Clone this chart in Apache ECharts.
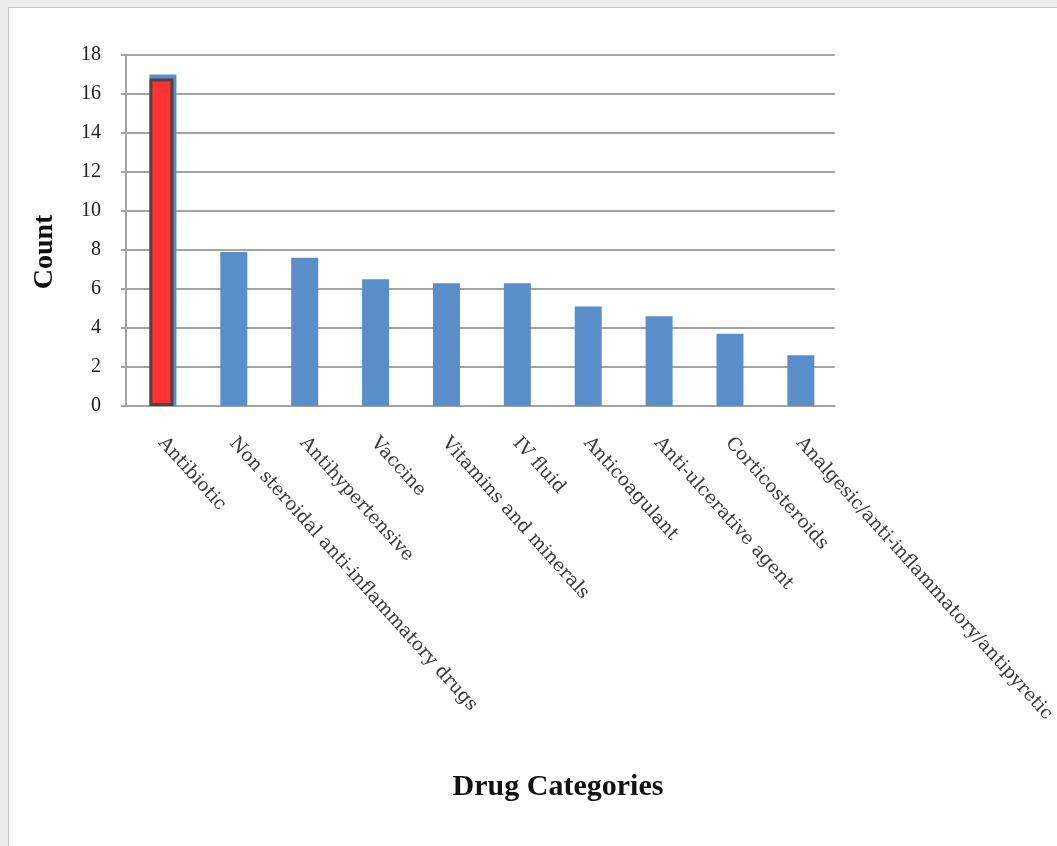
<!DOCTYPE html>
<html>
<head>
<meta charset="utf-8">
<script src="https://cdn.jsdelivr.net/npm/echarts@6/dist/echarts.min.js"></script>
<style>
  html, body { margin: 0; padding: 0; background: #ececec; }
  #main { position: absolute; left: 8px; top: 7px; width: 1049px; height: 839px;
          background: #ffffff; border-left: 1px solid #c4c4c4; border-top: 1px solid #c4c4c4; }
</style>
</head>
<body>
<div id="main"></div>
<script>
// chart data
var categories = ['Antibiotic', 'Non steroidal anti-inflammatory drugs', 'Antihypertensive', 'Vaccine',
  'Vitamins and minerals', 'IV fluid', 'Anticoagulant', 'Anti-ulcerative agent', 'Corticosteroids',
  'Analgesic/anti-inflammatory/antipyretic'];
var counts = [17, 7.9, 7.6, 6.5, 6.3, 6.3, 5.1, 4.6, 3.7, 2.6];
// red highlighted overlay on the first bar
var highlight = [16.8, '-', '-', '-', '-', '-', '-', '-', '-', '-'];
var yTicks = [0, 2, 4, 6, 8, 10, 12, 14, 16, 18];

var myChart = echarts.init(document.getElementById('main'));

var serif = '"Liberation Serif", "DejaVu Serif", serif';

option = {
  animation: false,
  grid: { left: 117, top: 47, width: 710, height: 351 },
  xAxis: {
    type: 'category',
    data: categories,
    axisLine: { lineStyle: { color: '#a3a3a3', width: 2 } },
    axisTick: { show: false },
    axisLabel: {
      rotate: -48,
      interval: 0,
      margin: 34,
      fontFamily: '"DejaVu Serif", serif',
      fontSize: 18.5,
      color: '#3a3a3a'
    }
  },
  yAxis: {
    type: 'value',
    min: yTicks[0],
    max: yTicks[yTicks.length - 1],
    interval: 2,
    axisLine: { show: true, lineStyle: { color: '#a3a3a3', width: 2 } },
    axisTick: { show: true, length: 5, lineStyle: { color: '#a3a3a3', width: 2 } },
    axisLabel: { margin: 25, fontFamily: serif, fontSize: 20, color: '#222' },
    splitLine: { lineStyle: { color: '#a3a3a3', width: 2 } }
  },
  series: [
    {
      type: 'bar',
      data: counts,
      barWidth: 27,
      barGap: '-100%',
      itemStyle: { color: '#5a8ecb' }
    },
    {
      type: 'bar',
      data: highlight,
      barWidth: 24,
      itemStyle: { color: '#ff3333', borderColor: '#4f433d', borderWidth: 3 }
    }
  ],
  graphic: [
    {
      type: 'text',
      x: 36,
      y: 244,
      rotation: Math.PI / 2,
      style: {
        text: 'Count', font: 'bold 28px ' + serif, fill: '#111',
        textAlign: 'center', textVerticalAlign: 'middle'
      }
    },
    {
      type: 'text',
      x: 549,
      y: 779,
      style: {
        text: 'Drug Categories', font: 'bold 30px ' + serif, fill: '#111',
        textAlign: 'center', textVerticalAlign: 'middle'
      }
    }
  ]
};

myChart.setOption(option);
</script>
</body>
</html>
